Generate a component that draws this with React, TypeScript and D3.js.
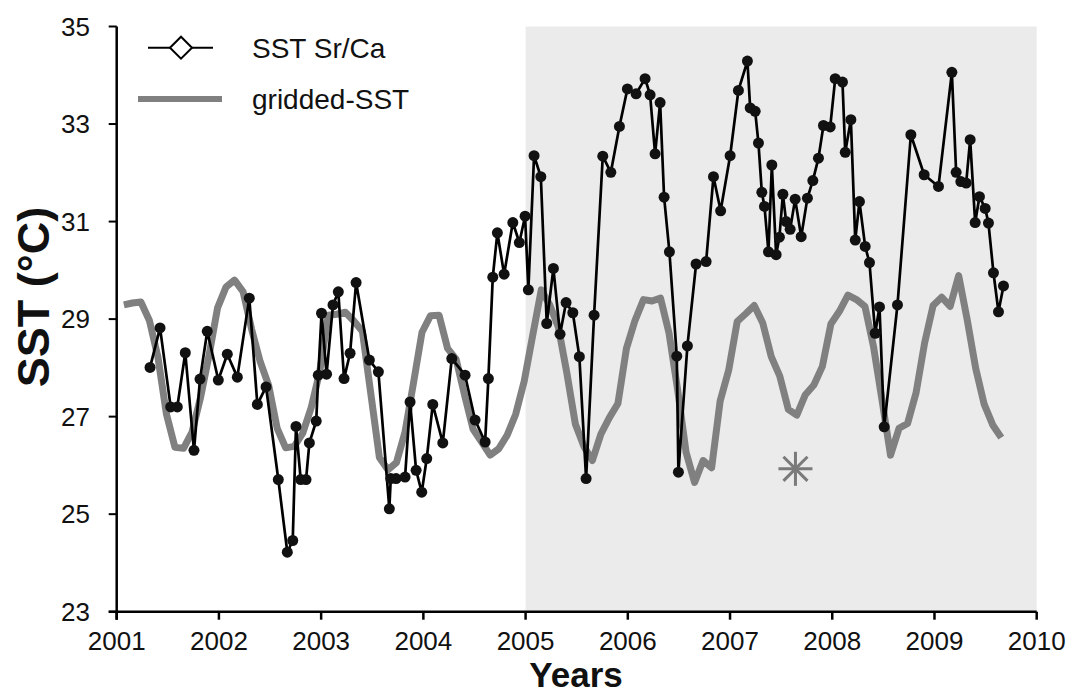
import React from "react";
import * as d3 from "d3";

// ---- Data ----
const xTicks = [2001, 2002, 2003, 2004, 2005, 2006, 2007, 2008, 2009, 2010];
const yTicks = [23, 25, 27, 29, 31, 33, 35];

// Coral Sr/Ca derived SST: [decimal year, SST °C]
const srcaYears = [
  2001.326, 2001.424, 2001.528, 2001.593, 2001.671, 2001.756, 2001.815, 2001.886, 2001.994,
  2002.082, 2002.18, 2002.297, 2002.376, 2002.461, 2002.581, 2002.669, 2002.722, 2002.754,
  2002.8, 2002.852, 2002.885, 2002.952, 2002.972, 2003.004, 2003.053, 2003.116, 2003.168,
  2003.224, 2003.283, 2003.342, 2003.472, 2003.56, 2003.667, 2003.681, 2003.733, 2003.821,
  2003.87, 2003.929, 2003.984, 2004.033, 2004.092, 2004.19, 2004.278, 2004.408, 2004.506,
  2004.604, 2004.636, 2004.679, 2004.724, 2004.79, 2004.875, 2004.939, 2004.995, 2005.027,
  2005.083, 2005.149, 2005.207, 2005.272, 2005.337, 2005.396, 2005.462, 2005.526, 2005.592,
  2005.67, 2005.755, 2005.834, 2005.918, 2005.996, 2006.081, 2006.169, 2006.218, 2006.267,
  2006.316, 2006.355, 2006.407, 2006.479, 2006.495, 2006.583, 2006.668, 2006.766, 2006.838,
  2006.908, 2007.001, 2007.082, 2007.17, 2007.197, 2007.246, 2007.278, 2007.311, 2007.337,
  2007.376, 2007.409, 2007.451, 2007.483, 2007.517, 2007.549, 2007.588, 2007.637, 2007.696,
  2007.757, 2007.81, 2007.865, 2007.914, 2007.98, 2008.029, 2008.1, 2008.127, 2008.182,
  2008.225, 2008.266, 2008.322, 2008.364, 2008.42, 2008.462, 2008.508, 2008.638, 2008.769,
  2008.899, 2009.039, 2009.17, 2009.212, 2009.258, 2009.31, 2009.349, 2009.398, 2009.44,
  2009.496, 2009.528, 2009.577, 2009.626, 2009.675,
];
const srcaSST = [
  28.01, 28.82, 27.2, 27.2, 28.31, 26.31, 27.77, 28.75, 27.75,
  28.28, 27.81, 29.43, 27.25, 27.61, 25.71, 24.22, 24.46, 26.8,
  25.71, 25.71, 26.46, 26.91, 27.85, 29.12, 27.87, 29.29, 29.56,
  27.78, 28.3, 29.75, 28.16, 27.92, 25.11, 25.73, 25.73, 25.76,
  27.3, 25.9, 25.45, 26.14, 27.25, 26.46, 28.19, 27.85, 26.93,
  26.48, 27.78, 29.86, 30.77, 29.92, 30.98, 30.57, 31.11, 29.6,
  32.35, 31.92, 28.91, 30.04, 28.69, 29.34, 29.13, 28.23, 25.73,
  29.08, 32.34, 32.01, 32.95, 33.72, 33.62, 33.93, 33.6, 32.39,
  33.44, 31.5, 30.38, 28.24, 25.86, 28.45, 30.13, 30.18, 31.92,
  31.22, 32.35, 33.69, 34.29, 33.33, 33.26, 32.61, 31.6, 31.31,
  30.38, 32.16, 30.32, 30.68, 31.56, 31.0, 30.84, 31.46, 30.69,
  31.48, 31.84, 32.3, 32.97, 32.94, 33.93, 33.86, 32.42, 33.09,
  30.62, 31.41, 30.49, 30.16, 28.71, 29.25, 26.79, 29.29, 32.78,
  31.96, 31.72, 34.06, 32.01, 31.82, 31.79, 32.68, 30.98, 31.51,
  31.27, 30.97, 29.95, 29.15, 29.68,
];

// Gridded SST, monthly from first month below
const griddedStart = 2001.07;
const griddedSST = [
  29.29, 29.33, 29.35, 28.97, 28.22, 27.05, 26.37, 26.35, 26.68, 27.39, 28.26, 29.23,
  29.66, 29.8, 29.56, 28.79, 28.13, 27.64, 26.76, 26.36, 26.39, 26.66, 27.19, 27.93,
  29.08, 29.1, 29.14, 28.96, 28.75, 27.46, 26.16, 25.91, 26.06, 26.68, 27.69, 28.73,
  29.07, 29.08, 28.4, 28.18, 27.44, 26.74, 26.48, 26.21, 26.34, 26.62, 27.05, 27.73,
  28.67, 29.6, 29.29, 28.84, 27.9, 26.85, 26.39, 26.1, 26.64, 26.98, 27.27, 28.4,
  28.97, 29.4, 29.37, 29.43, 28.71, 27.56, 26.27, 25.65, 26.1, 25.95, 27.32, 27.95,
  28.95, 29.11, 29.28, 28.92, 28.23, 27.83, 27.15, 27.03, 27.45, 27.65, 28.03, 28.9,
  29.16, 29.49, 29.4, 29.26, 28.44, 27.34, 26.21, 26.76, 26.86, 27.49, 28.51, 29.28,
  29.45, 29.26, 29.89, 28.99, 27.99, 27.25, 26.83, 26.57,
];

const shadeRange = [2005, 2010];
const asterisk = { year: 2007.64, sst: 25.93 };

const legendLabels = ["SST Sr/Ca", "gridded-SST"];

// ---- Layout ----
const W = 1072;
const H = 696;
const FONT = "Arial, 'Liberation Sans', sans-serif";

export default function App() {
  const x = d3.scaleLinear().domain([2001, 2010]).range([116.7, 1036.7]);
  const y = d3.scaleLinear().domain([23, 35]).range([611.7, 26.5]);

  const srca = srcaYears.map((yr, i) => ({ yr, v: srcaSST[i] }));
  const gridded = griddedSST.map((v, i) => ({ yr: griddedStart + i / 12, v }));

  const line = d3
    .line<{ yr: number; v: number }>()
    .x((d) => x(d.yr))
    .y((d) => y(d.v));

  const axisX = x(2001);
  const axisY = y(23);

  const ax = x(asterisk.year);
  const ay = y(asterisk.sst);
  const armLen = 17;

  return (
    <svg
      width={W}
      height={H}
      style={{ position: "absolute", left: 0, top: 0, background: "#fff" }}
      fontFamily={FONT}
    >
      {/* shaded period */}
      <rect
        x={x(shadeRange[0])}
        y={y(35)}
        width={x(shadeRange[1]) - x(shadeRange[0])}
        height={y(23) - y(35)}
        fill="#ebebeb"
      />

      {/* gridded SST */}
      <path
        d={line(gridded) || ""}
        fill="none"
        stroke="#808080"
        strokeWidth={7}
        strokeLinejoin="round"
        strokeLinecap="butt"
      />

      {/* Sr/Ca SST */}
      <path
        d={line(srca) || ""}
        fill="none"
        stroke="#000"
        strokeWidth={2.7}
        strokeLinejoin="round"
      />
      {srca.map((d, i) => (
        <circle key={i} cx={x(d.yr)} cy={y(d.v)} r={5.5} fill="#111" />
      ))}

      {/* asterisk */}
      <g stroke="#7a7a7a" strokeWidth={3}>
        {d3.range(4).map((k) => {
          const a = (k * Math.PI) / 4;
          return (
            <line
              key={k}
              x1={ax - armLen * Math.cos(a)}
              y1={ay - armLen * Math.sin(a)}
              x2={ax + armLen * Math.cos(a)}
              y2={ay + armLen * Math.sin(a)}
            />
          );
        })}
      </g>

      {/* axes */}
      <line x1={axisX} y1={y(35)} x2={axisX} y2={axisY + 8} stroke="#000" strokeWidth={2.5} />
      <line x1={axisX - 8} y1={axisY} x2={x(2010)} y2={axisY} stroke="#000" strokeWidth={2.5} />
      {yTicks.map((t) => (
        <g key={t}>
          <line x1={axisX - 8} x2={axisX} y1={y(t)} y2={y(t)} stroke="#000" strokeWidth={2} />
          <text
            x={90}
            y={y(t)}
            textAnchor="end"
            dominantBaseline="central"
            fontSize={26}
            fill="#111"
          >
            {t}
          </text>
        </g>
      ))}
      {xTicks.map((t) => (
        <g key={t}>
          <line x1={x(t)} x2={x(t)} y1={axisY} y2={axisY + 8} stroke="#000" strokeWidth={2.5} />
          <text x={x(t)} y={650} textAnchor="middle" fontSize={26} fill="#111">
            {t}
          </text>
        </g>
      ))}

      {/* axis titles */}
      <text
        transform={`translate(49, 297) rotate(-90)`}
        textAnchor="middle"
        fontSize={45}
        fontWeight="bold"
        fill="#111"
      >
        SST (°C)
      </text>
      <text x={576} y={687} textAnchor="middle" fontSize={35} fontWeight="bold" fill="#111">
        Years
      </text>

      {/* legend */}
      <line x1={148} x2={213} y1={47.7} y2={47.7} stroke="#000" strokeWidth={2} />
      <path
        d={`M ${181 - 11} 47.7 L 181 ${47.7 - 11} L ${181 + 11} 47.7 L 181 ${47.7 + 11} Z`}
        fill="#fff"
        stroke="#000"
        strokeWidth={2}
      />
      <text x={252} y={48} dominantBaseline="central" fontSize={28} fill="#111">
        {legendLabels[0]}
      </text>
      <line x1={138} x2={222} y1={99} y2={99} stroke="#808080" strokeWidth={6} />
      <text x={252} y={99} dominantBaseline="central" fontSize={28} fill="#111">
        {legendLabels[1]}
      </text>
    </svg>
  );
}
